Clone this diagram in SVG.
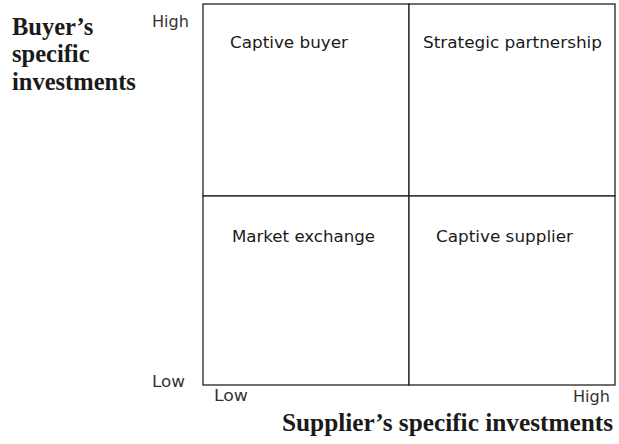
<svg xmlns="http://www.w3.org/2000/svg" width="619" height="444" viewBox="0 0 619 444">
<style>
.q{fill:#fff;stroke:#222;stroke-width:1.3}
.s{font-family:"DejaVu Sans",sans-serif;font-size:16px;fill:#1a1a1a}
.a{font-family:"DejaVu Sans",sans-serif;font-size:16px;fill:#333}
.b{font-family:"Liberation Serif",serif;font-size:24.5px;font-weight:bold;fill:#1a1a1a}
</style>
<rect width="619" height="444" fill="#fff"/>
<g id="captive-buyer">
<rect class="q" x="203" y="4" width="206" height="192"/>
<text class="s" x="230" y="48" textLength="118" lengthAdjust="spacingAndGlyphs">Captive buyer</text>
</g>
<g id="strategic-partnership">
<rect class="q" x="409" y="4" width="206" height="192"/>
<text class="s" x="423" y="48" textLength="179" lengthAdjust="spacingAndGlyphs">Strategic partnership</text>
</g>
<g id="market-exchange">
<rect class="q" x="203" y="196" width="206" height="189"/>
<text class="s" x="232" y="242" textLength="143" lengthAdjust="spacingAndGlyphs">Market exchange</text>
</g>
<g id="captive-supplier">
<rect class="q" x="409" y="196" width="206" height="189"/>
<text class="s" x="436" y="242" textLength="137" lengthAdjust="spacingAndGlyphs">Captive supplier</text>
</g>
<g id="connectors"></g>
<g id="y-axis">
<text class="a" x="152" y="27" textLength="37" lengthAdjust="spacingAndGlyphs">High</text>
<text class="a" x="152" y="387" textLength="33" lengthAdjust="spacingAndGlyphs">Low</text>
<text class="b" x="12" y="35">Buyer’s</text>
<text class="b" x="12" y="62">specific</text>
<text class="b" x="12" y="90">investments</text>
</g>
<g id="x-axis">
<text class="a" x="214" y="401" textLength="34" lengthAdjust="spacingAndGlyphs">Low</text>
<text class="a" x="573" y="402" textLength="37" lengthAdjust="spacingAndGlyphs">High</text>
<text class="b" x="282" y="431" textLength="331" lengthAdjust="spacingAndGlyphs">Supplier’s specific investments</text>
</g>
</svg>
